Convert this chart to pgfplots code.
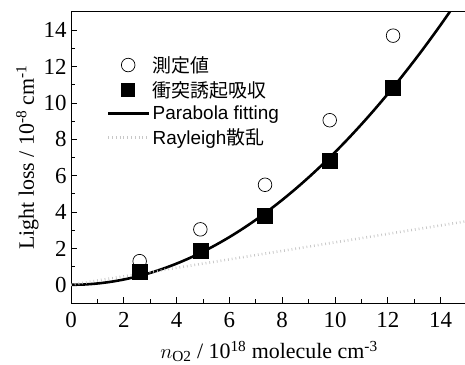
\documentclass[border=0pt]{standalone}
\usepackage{pgfplots}
\pgfplotsset{compat=1.18}
\usepackage{fontspec}
\setmainfont{Liberation Serif}
\newfontfamily\arialf{Liberation Sans}
\newfontfamily\jpfont{Noto Sans CJK JP}
\begin{document}
\begin{tikzpicture}
\begin{axis}[
  scale only axis,
  width=396bp, height=291bp,
  at={(71bp,62bp)}, anchor=south west,
  xmin=0, xmax=15, ymin=-1, ymax=15,
  xtick={0,2,...,14}, ytick={0,2,...,14},
  minor x tick num=1, minor y tick num=1,
  tick align=inside,
  xtick pos=bottom, ytick pos=left,
  major tick length=6bp, minor tick length=4bp,
  axis line style={line width=1pt},
  tick style={line width=0.8pt, black},
  /pgf/number format/assume math mode=true,
  tick label style={font=\fontsize{23}{23}\selectfont},
  xticklabel style={yshift=-6bp},
  yticklabel style={xshift=-1bp},
  xlabel={\fontsize{22}{22}\selectfont $n_{\mathrm{O2}}$ / 10\textsuperscript{18} molecule cm\textsuperscript{-3}},
  ylabel={\fontsize{22}{22}\selectfont Light loss / 10\textsuperscript{-8} cm\textsuperscript{-1}},
  xlabel style={yshift=-6bp},
  ylabel style={yshift=-2bp},
  clip=true,
  legend cell align=left,
  legend style={draw=none, fill=none, at={(0.083,0.862)}, anchor=north west,
    font=\arialf\fontsize{19}{19}\selectfont, row sep=3.5bp,
    /tikz/every even column/.append style={column sep=3bp}},
]
\addplot[only marks, mark=*, mark size=6.8bp, mark options={fill=white, draw=black, line width=0.7pt},
  legend image code/.code={\draw[mark=*, mark size=6.8bp, mark options={fill=white, draw=black, line width=0.7pt}] plot coordinates {(0.7cm,0cm)};}]
  coordinates {(2.6,1.3) (4.9,3.05) (7.35,5.5) (9.8,9.05) (12.2,13.7)};
\addlegendentry{\jpfont 測定値}
\addplot[only marks, mark=square*, mark size=7.5bp, mark options={fill=black, draw=black},
  legend image code/.code={\draw[mark=square*, mark size=6.5bp, mark options={fill=black, draw=black}] plot coordinates {(0.7cm,0cm)};}]
  coordinates {(2.6,0.7) (4.9,1.9) (7.35,3.8) (9.8,6.8) (12.2,10.85)};
\addlegendentry{\jpfont 衝突誘起吸収}
\addplot[black, line width=2.6pt, smooth, no marks,
  legend image code/.code={\draw[black, line width=2.6pt] (0cm,0cm) -- (1.45cm,0cm);}]
  coordinates {(0,0) (0.5,0.018) (1,0.073) (1.5,0.164) (2,0.292) (2.5,0.456) (3,0.656) (3.5,0.893) (4,1.166) (4.5,1.476) (5,1.823) (5.5,2.205) (6,2.624) (6.5,3.080) (7,3.572) (7.5,4.101) (8,4.666) (8.5,5.267) (9,5.905) (9.5,6.579) (10,7.29) (10.5,8.037) (11,8.821) (11.5,9.641) (12,10.498) (12.5,11.391) (13,12.320) (13.5,13.286) (14,14.288) (14.5,15.33) (15,16.40)};
\addlegendentry{Parabola fitting}
\addplot[black!22, line width=2.6pt, dash pattern=on 0.8pt off 3pt, no marks,
  legend image code/.code={\draw[black!22, line width=2.6pt, dash pattern=on 0.8pt off 3pt] (0cm,0cm) -- (1.45cm,0cm);}]
  coordinates {(0,0) (15,3.5)};
\addlegendentry{Rayleigh\jpfont 散乱}
% redraw squares on top of the curve
\addplot[only marks, mark=square*, mark size=7.5bp, mark options={fill=black, draw=black}, forget plot]
  coordinates {(2.6,0.7) (4.9,1.9) (7.35,3.8) (9.8,6.8) (12.2,10.85)};
\end{axis}
\pgfresetboundingbox
\path (0,0) rectangle (465bp,365bp);
\end{tikzpicture}
\end{document}
